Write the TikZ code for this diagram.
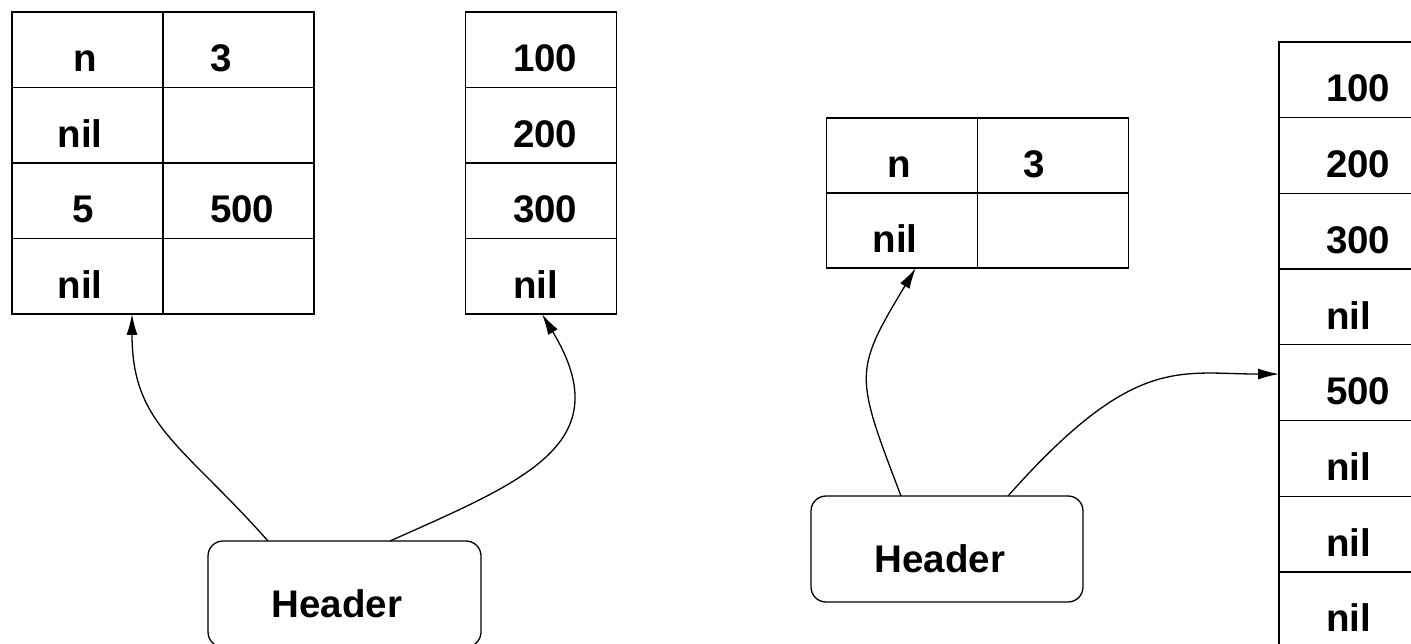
\documentclass[tikz,border=0pt]{standalone}
\usepackage{fontspec}
\setmainfont{Liberation Sans}
\usetikzlibrary{arrows.meta}
\begin{document}
\begin{tikzpicture}[x=1pt,y=-1pt,
  every node/.style={inner sep=0pt, outer sep=0pt},
  cell/.style={draw, line width=1.3pt, minimum width=151pt, minimum height=75.5pt},
  bigcell/.style={cell, minimum height=75.7pt},
  hdr/.style={draw, line width=1.3pt, rounded corners=15pt, minimum width=273pt, minimum height=106pt},
  txt/.style={font=\fontsize{38.5}{46}\selectfont\bfseries, anchor=base},
  txtl/.style={txt, anchor=base west},
  conn/.style={line width=1.3pt, -{Latex[length=21pt,width=11pt]}}]
\clip (0,0) rectangle (1411,644);

% --- left structure: record with four rows
\node[cell] (a11) at (87.5,49.75) {};
\node[cell] (a12) at (238.5,49.75) {};
\node[cell] (a21) at (87.5,125.25) {};
\node[cell] (a22) at (238.5,125.25) {};
\node[cell] (a31) at (87.5,200.75) {};
\node[cell] (a32) at (238.5,200.75) {};
\node[cell] (a41) at (87.5,276.25) {};
\node[cell] (a42) at (238.5,276.25) {};
\node[txt]  (a11t) at (85,72) {n};
\node[txtl] (a12t) at (210,72) {3};
\node[txt]  (a21t) at (80,148) {nil};
\node[txt]  (a31t) at (83,223) {5};
\node[txtl] (a32t) at (210,223) {500};
\node[txt]  (a41t) at (80,299) {nil};

% --- left array
\node[cell] (b1) at (541,49.75) {};
\node[cell] (b2) at (541,125.25) {};
\node[cell] (b3) at (541,200.75) {};
\node[cell] (b4) at (541,276.25) {};
\node[txtl] (b1t) at (513,72) {100};
\node[txtl] (b2t) at (513,148) {200};
\node[txtl] (b3t) at (513,223) {300};
\node[txtl] (b4t) at (513,299) {nil};

% --- left header
\node[hdr] (h1) at (344.5,594) {};
\node[txt] (h1t) at (337,617) {Header};

\draw[conn] ([xshift=60pt]h1.north west) .. controls (182,444) and (132,425) .. ([xshift=44.5pt]a41.south);
\draw[conn] ([xshift=182pt]h1.north west) .. controls (527,480) and (620,443) .. ([xshift=1pt]b4.south);

% --- right structure: record with two rows
\node[cell, minimum height=75pt] (c11) at (901.75,155.5) {};
\node[cell, minimum height=75pt] (c12) at (1053.25,155.5) {};
\node[cell, minimum height=75pt] (c21) at (901.75,230.5) {};
\node[cell, minimum height=75pt] (c22) at (1053.25,230.5) {};
\node[txt]  (c11t) at (899,178) {n};
\node[txtl] (c12t) at (1023,178) {3};
\node[txt]  (c21t) at (895,253) {nil};

% --- right array with eight slots
\foreach \k/\v in {1/100,2/200,3/300,4/nil,5/500,6/nil,7/nil,8/nil}{
  \node[bigcell] (d\k) at (1354.5,{42+75.7*(\k-0.5)}) {};
  \node[txtl] (d\k t) at (1326,{42+75.7*(\k-1)+60}) {\v};
}

% --- right header
\node[hdr, minimum width=272pt] (h2) at (947,549) {};
\node[txt] (h2t) at (940,572) {Header};

\draw[conn] ([xshift=90pt]h2.north west) .. controls (855,375) and (853,372) .. ([xshift=14pt]c21.south);
\draw[conn] ([xshift=197pt]h2.north west) .. controls (1134,354) and (1179,374) .. ([yshift=8.6pt]d5.west);
\end{tikzpicture}
\end{document}
